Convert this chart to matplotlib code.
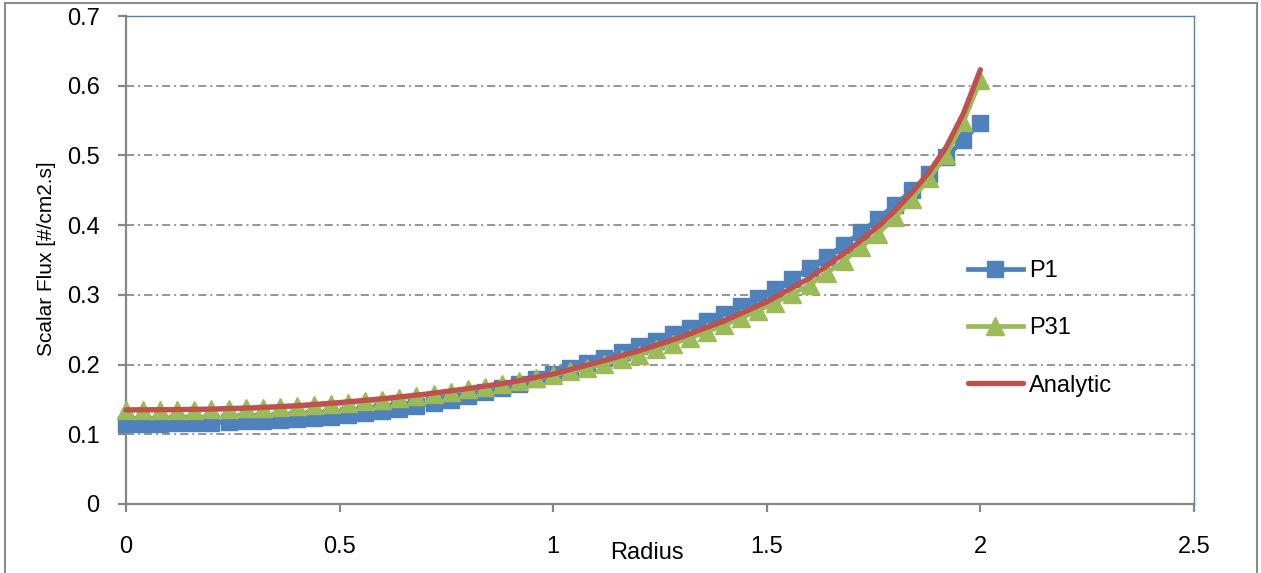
import numpy as np
import matplotlib
matplotlib.use("Agg")
import matplotlib.pyplot as plt
from matplotlib.lines import Line2D

plt.rcParams['font.family'] = ['Liberation Sans', 'DejaVu Sans']

# radius positions of the P1 / P31 points (step 0.04)
radius = [0.00, 0.04, 0.08, 0.12, 0.16, 0.20, 0.24, 0.28, 0.32, 0.36,
          0.40, 0.44, 0.48, 0.52, 0.56, 0.60, 0.64, 0.68, 0.72, 0.76,
          0.80, 0.84, 0.88, 0.92, 0.96, 1.00, 1.04, 1.08, 1.12, 1.16,
          1.20, 1.24, 1.28, 1.32, 1.36, 1.40, 1.44, 1.48, 1.52, 1.56,
          1.60, 1.64, 1.68, 1.72, 1.76, 1.80, 1.84, 1.88, 1.92, 1.96,
          2.00]

flux_p1 = [0.1150, 0.1151, 0.1153, 0.1156, 0.1161, 0.1167, 0.1175, 0.1184, 0.1195, 0.1207,
           0.1221, 0.1237, 0.1255, 0.1277, 0.1303, 0.1333, 0.1367, 0.1405, 0.1447, 0.1493,
           0.1543, 0.1600, 0.1662, 0.1728, 0.1797, 0.1869, 0.1944, 0.2021, 0.2100, 0.2181,
           0.2264, 0.2342, 0.2434, 0.2529, 0.2627, 0.2729, 0.2838, 0.2960, 0.3090, 0.3230,
           0.3385, 0.3545, 0.3715, 0.3895, 0.4090, 0.4290, 0.4500, 0.4730, 0.4975, 0.5220,
           0.5465]

flux_p31 = [0.1350, 0.1349, 0.1350, 0.1352, 0.1355, 0.1358, 0.1363, 0.1370, 0.1378, 0.1388,
            0.1399, 0.1413, 0.1430, 0.1450, 0.1472, 0.1496, 0.1521, 0.1548, 0.1578, 0.1610,
            0.1643, 0.1680, 0.1720, 0.1762, 0.1806, 0.1853, 0.1902, 0.1955, 0.2010, 0.2075,
            0.2143, 0.2220, 0.2300, 0.2383, 0.2473, 0.2565, 0.2670, 0.2775, 0.2890, 0.3010,
            0.3145, 0.3310, 0.3490, 0.3680, 0.3880, 0.4110, 0.4380, 0.4670, 0.5010, 0.5480,
            0.6080]

# analytic solution
radius_an = [0.0, 0.1, 0.2, 0.3, 0.4, 0.5, 0.6, 0.7, 0.8, 0.9, 1.0, 1.1, 1.2,
             1.3, 1.4, 1.5, 1.6, 1.7, 1.76, 1.8, 1.84, 1.88, 1.92, 1.96, 2.0]
flux_an = [0.1350, 0.1353, 0.1362, 0.1380, 0.1410, 0.1455, 0.1510, 0.1575, 0.1655,
           0.1745, 0.1865, 0.2025, 0.2195, 0.2395, 0.2625, 0.2900, 0.3240, 0.3680,
           0.3980, 0.4210, 0.4470, 0.4760, 0.5120, 0.5600, 0.6230]

x_ticks = [0, 0.5, 1, 1.5, 2, 2.5]
x_labels = ['0', '0.5', '1', '1.5', '2', '2.5']
y_ticks = [0, 0.1, 0.2, 0.3, 0.4, 0.5, 0.6, 0.7]
y_labels = ['0', '0.1', '0.2', '0.3', '0.4', '0.5', '0.6', '0.7']

W, H = 1261, 573
fig = plt.figure(figsize=(W / 100, H / 100), dpi=100)
ax = fig.add_axes([126 / W, 1 - 504 / H, 1068 / W, 488 / H])

ax.plot(radius, flux_p1, color='#4F81BD', lw=3.4, marker='s', ms=11,
        label='P1', clip_on=False, zorder=3)
ax.plot(radius, flux_p31, color='#9BBB59', lw=3.4, marker='^', ms=13,
        label='P31', clip_on=False, zorder=4)
ax.plot(radius_an, flux_an, color='#C0504D', lw=3.8, label='Analytic',
        solid_capstyle='round', clip_on=False, zorder=5)

ax.set_xlim(0, 2.5)
ax.set_ylim(0, 0.7)
ax.set_xticks(x_ticks)
ax.set_xticklabels(x_labels)
ax.set_yticks(y_ticks)
ax.set_yticklabels(y_labels)

# dash-dot gridlines
for yv in y_ticks[1:-1]:
    ax.axhline(yv, color='#8C8C8C', lw=1.3, ls=(0, (4.5, 2.2, 1.1, 2.2)), zorder=1)

for side in ['left', 'bottom']:
    ax.spines[side].set_color('#868686')
    ax.spines[side].set_linewidth(1.6)
for side in ['top', 'right']:
    ax.spines[side].set_color('#4F81BD')
    ax.spines[side].set_linewidth(1.0)

ax.tick_params(axis='both', direction='out', length=6, width=1.6, color='#868686',
               labelsize=17)
ax.tick_params(axis='x', pad=17)
ax.tick_params(axis='y', pad=13)

fig.text(647 / W, 1 - 553 / H, 'Radius', fontsize=17, ha='center', va='center')
fig.text(47 / W, 1 - 259 / H, 'Scalar Flux [#/cm2.s]', fontsize=15,
         rotation=90, ha='center', va='center')

ax.legend(loc='center left', bbox_to_anchor=(0.788, 0.36), frameon=False,
          fontsize=17, numpoints=1, handlelength=2.35, handletextpad=0.25,
          labelspacing=1.5, borderpad=0, borderaxespad=0)

# outer chart border
for xs, ys in [([5 / W, 5 / W], [0, 1 - 3 / H]),
               ([5 / W, 1257 / W], [1 - 3 / H, 1 - 3 / H]),
               ([1257 / W, 1257 / W], [0, 1 - 3 / H])]:
    fig.add_artist(Line2D(xs, ys, color='#8C8C8C', lw=1.5))

fig.savefig('out.png', dpi=100)
